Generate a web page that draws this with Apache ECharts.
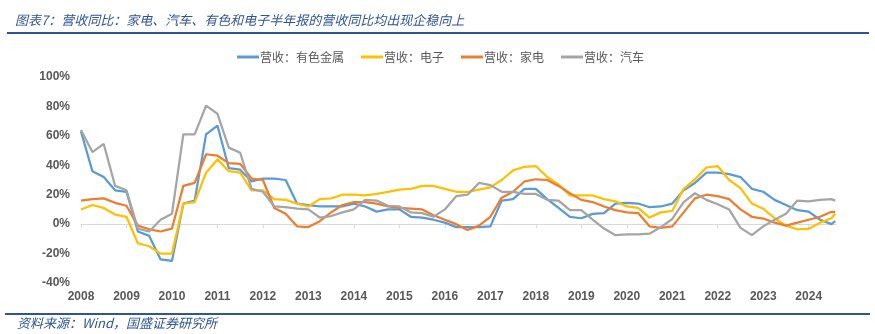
<!DOCTYPE html>
<html>
<head>
<meta charset="utf-8">
<script src="https://cdn.jsdelivr.net/npm/echarts@6/dist/echarts.min.js"></script>
<style>
html,body{margin:0;padding:0;background:#fff;}
#chart{width:875px;height:334px;}
</style>
</head>
<body>
<div id="chart"></div>
<script>
// Quarterly sample dates (YYYY-MM)
var dates = [
 '2008-01','2008-04','2008-07','2008-10',
 '2009-01','2009-04','2009-07','2009-10',
 '2010-01','2010-04','2010-07','2010-10',
 '2011-01','2011-04','2011-07','2011-10',
 '2012-01','2012-04','2012-07','2012-10',
 '2013-01','2013-04','2013-07','2013-10',
 '2014-01','2014-04','2014-07','2014-10',
 '2015-01','2015-04','2015-07','2015-10',
 '2016-01','2016-04','2016-07','2016-10',
 '2017-01','2017-04','2017-07','2017-10',
 '2018-01','2018-04','2018-07','2018-10',
 '2019-01','2019-04','2019-07','2019-10',
 '2020-01','2020-04','2020-07','2020-10',
 '2021-01','2021-04','2021-07','2021-10',
 '2022-01','2022-04','2022-07','2022-10',
 '2023-01','2023-04','2023-07','2023-10',
 '2024-01','2024-04','2024-07','2024-08'
];
var yearLabels = [2008,2009,2010,2011,2012,2013,2014,2015,2016,2017,2018,2019,2020,2021,2022,2023,2024];
var seriesNames = ['营收：有色金属','营收：电子','营收：家电','营收：汽车'];

var metals = [63,36,32,23, 22,-5,-8,-24, -25,14,16,61, 67,38,37,29, 31,31,30,14,
  13,12,12,12, 14,12,8.5,10, 10,5,4.5,3, 1,-2,-2,-2, -1.5,16,17,24, 24,17,11,5,
  4,7,7.5,14, 14.5,14,11.5,12, 14,23,28,35, 35,34,32,24, 22,16.5,13,9.5, 8.5,3,0,2];
var electronics = [10,13,11,6.5, 5,-13,-15,-20, -20,14,15,35, 44,36,35,23, 23,17,16.5,14,
  12,17,17.5,20, 20,19.5,20.5,22, 23.5,24,26,26, 24,22,22,23.5, 25,30,36.5,39, 39.5,32,27,19.5,
  19.5,19.5,17,15.5, 12,11,4.5,8, 9,24,30.5,38.5, 39.5,30,24.5,14, 10.5,4,-1,-3.5, -3.2,1,4,7];
var appliances = [16,17,17.5,14.5, 12.5,-1,-3.5,-5, -3,26,28,47.5, 46.5,41.5,41,31, 30,11,7,-1.5,
  -2,2,8,13, 15,15,14,12, 11,10.5,10,6, 3,0,-4,-1, 5,18,22,29, 30.5,30,26,21,
  16.5,15,12,9.5, 8,7.5,-1.5,-2.5, -1.5,8,17.5,20, 19,17,10,5, 3.8,1,-1,1, 3,5,8.4,8.4];
var autos = [64,49,54.5,26, 23,-3,-5,3, 7,61,61,80.5, 75,52,48.5,24, 22,12,11.5,10.5,
  10,4.5,5.5,8, 10,16.5,16,12.5, 12,8,7.5,5, 10,19,20,28, 26.5,22,22,20.5, 20.5,16.5,16,9.5,
  9.5,3,-3,-7.5, -7,-7,-6.5,-2, 3.5,15,21,16.5, 13.5,10,-2.5,-7.5, -1.5,3,7,16, 15.5,16.5,17,16];

function toYear(s){ var p = s.split('-'); return parseInt(p[0],10) + (parseInt(p[1],10)-1)/12; }
function pairs(vals){ return dates.map(function(d,i){ return [toYear(d), vals[i]]; }); }

var colors = ['#5B9BD5','#FFC000','#ED7D31','#A5A5A5'];
var allVals = [metals, electronics, appliances, autos];

var chart = echarts.init(document.getElementById('chart'), null, {renderer:'canvas'});
var axisFont = {fontFamily:'Liberation Sans, Arial, sans-serif', fontWeight:'bold', fontSize:12, color:'#595959'};

chart.setOption({
  animation:false,
  backgroundColor:'#ffffff',
  title:{
    text:'图表7：营收同比：家电、汽车、有色和电子半年报的营收同比均出现企稳向上',
    left:15, top:14, padding:0,
    textStyle:{fontFamily:'Noto Sans CJK SC', fontStyle:'italic', fontWeight:'normal', fontSize:13, color:'#2F5597'}
  },
  legend:{
    data:seriesNames,
    left:237, top:51, padding:0, itemWidth:22, itemHeight:3, itemGap:17, icon:'rect',
    textStyle:{fontFamily:'Noto Sans CJK SC', fontSize:12, color:'#595959', padding:[0,0,0,-4]}
  },
  grid:{left:81, right:39, top:77, bottom:51, containLabel:false},
  xAxis:[{
    type:'value', min:2008, max:2024.6,
    axisLine:{show:true, onZero:true, lineStyle:{color:'#D9D9D9', width:1}},
    axisTick:{show:true, length:4, customValues:yearLabels, lineStyle:{color:'#D9D9D9'}},
    axisLabel:{show:false},
    splitLine:{show:false}
  },{
    type:'value', min:2008, max:2024.6, position:'bottom',
    axisLine:{show:false, onZero:false},
    axisTick:{show:false},
    axisLabel:Object.assign({show:true, margin:8, customValues:yearLabels, formatter:function(v){return String(Math.round(v));}}, axisFont),
    splitLine:{show:false}
  }],
  yAxis:{
    type:'value', min:-40, max:100, interval:20,
    axisLine:{show:false}, axisTick:{show:false}, splitLine:{show:false},
    axisLabel:Object.assign({margin:11, formatter:'{value}%'}, axisFont)
  },
  series: seriesNames.map(function(n,i){
    return {
      name:n, type:'line', xAxisIndex:0, data:pairs(allVals[i]),
      symbol:'none', smooth:false,
      lineStyle:{color:colors[i], width:2.25},
      itemStyle:{color:colors[i]}
    };
  }),
  graphic:[
    {type:'line', shape:{x1:7,y1:33,x2:869,y2:33}, style:{stroke:'#2F5597', lineWidth:2}},
    {type:'line', shape:{x1:5,y1:314,x2:870,y2:314}, style:{stroke:'#2F5597', lineWidth:2}},
    {type:'text', x:17, y:323, style:{text:'资料来源：Wind，国盛证券研究所', font:'italic 13px "Noto Sans CJK SC"', fill:'#2F5597', verticalAlign:'middle'}}
  ]
});
</script>
</body>
</html>
